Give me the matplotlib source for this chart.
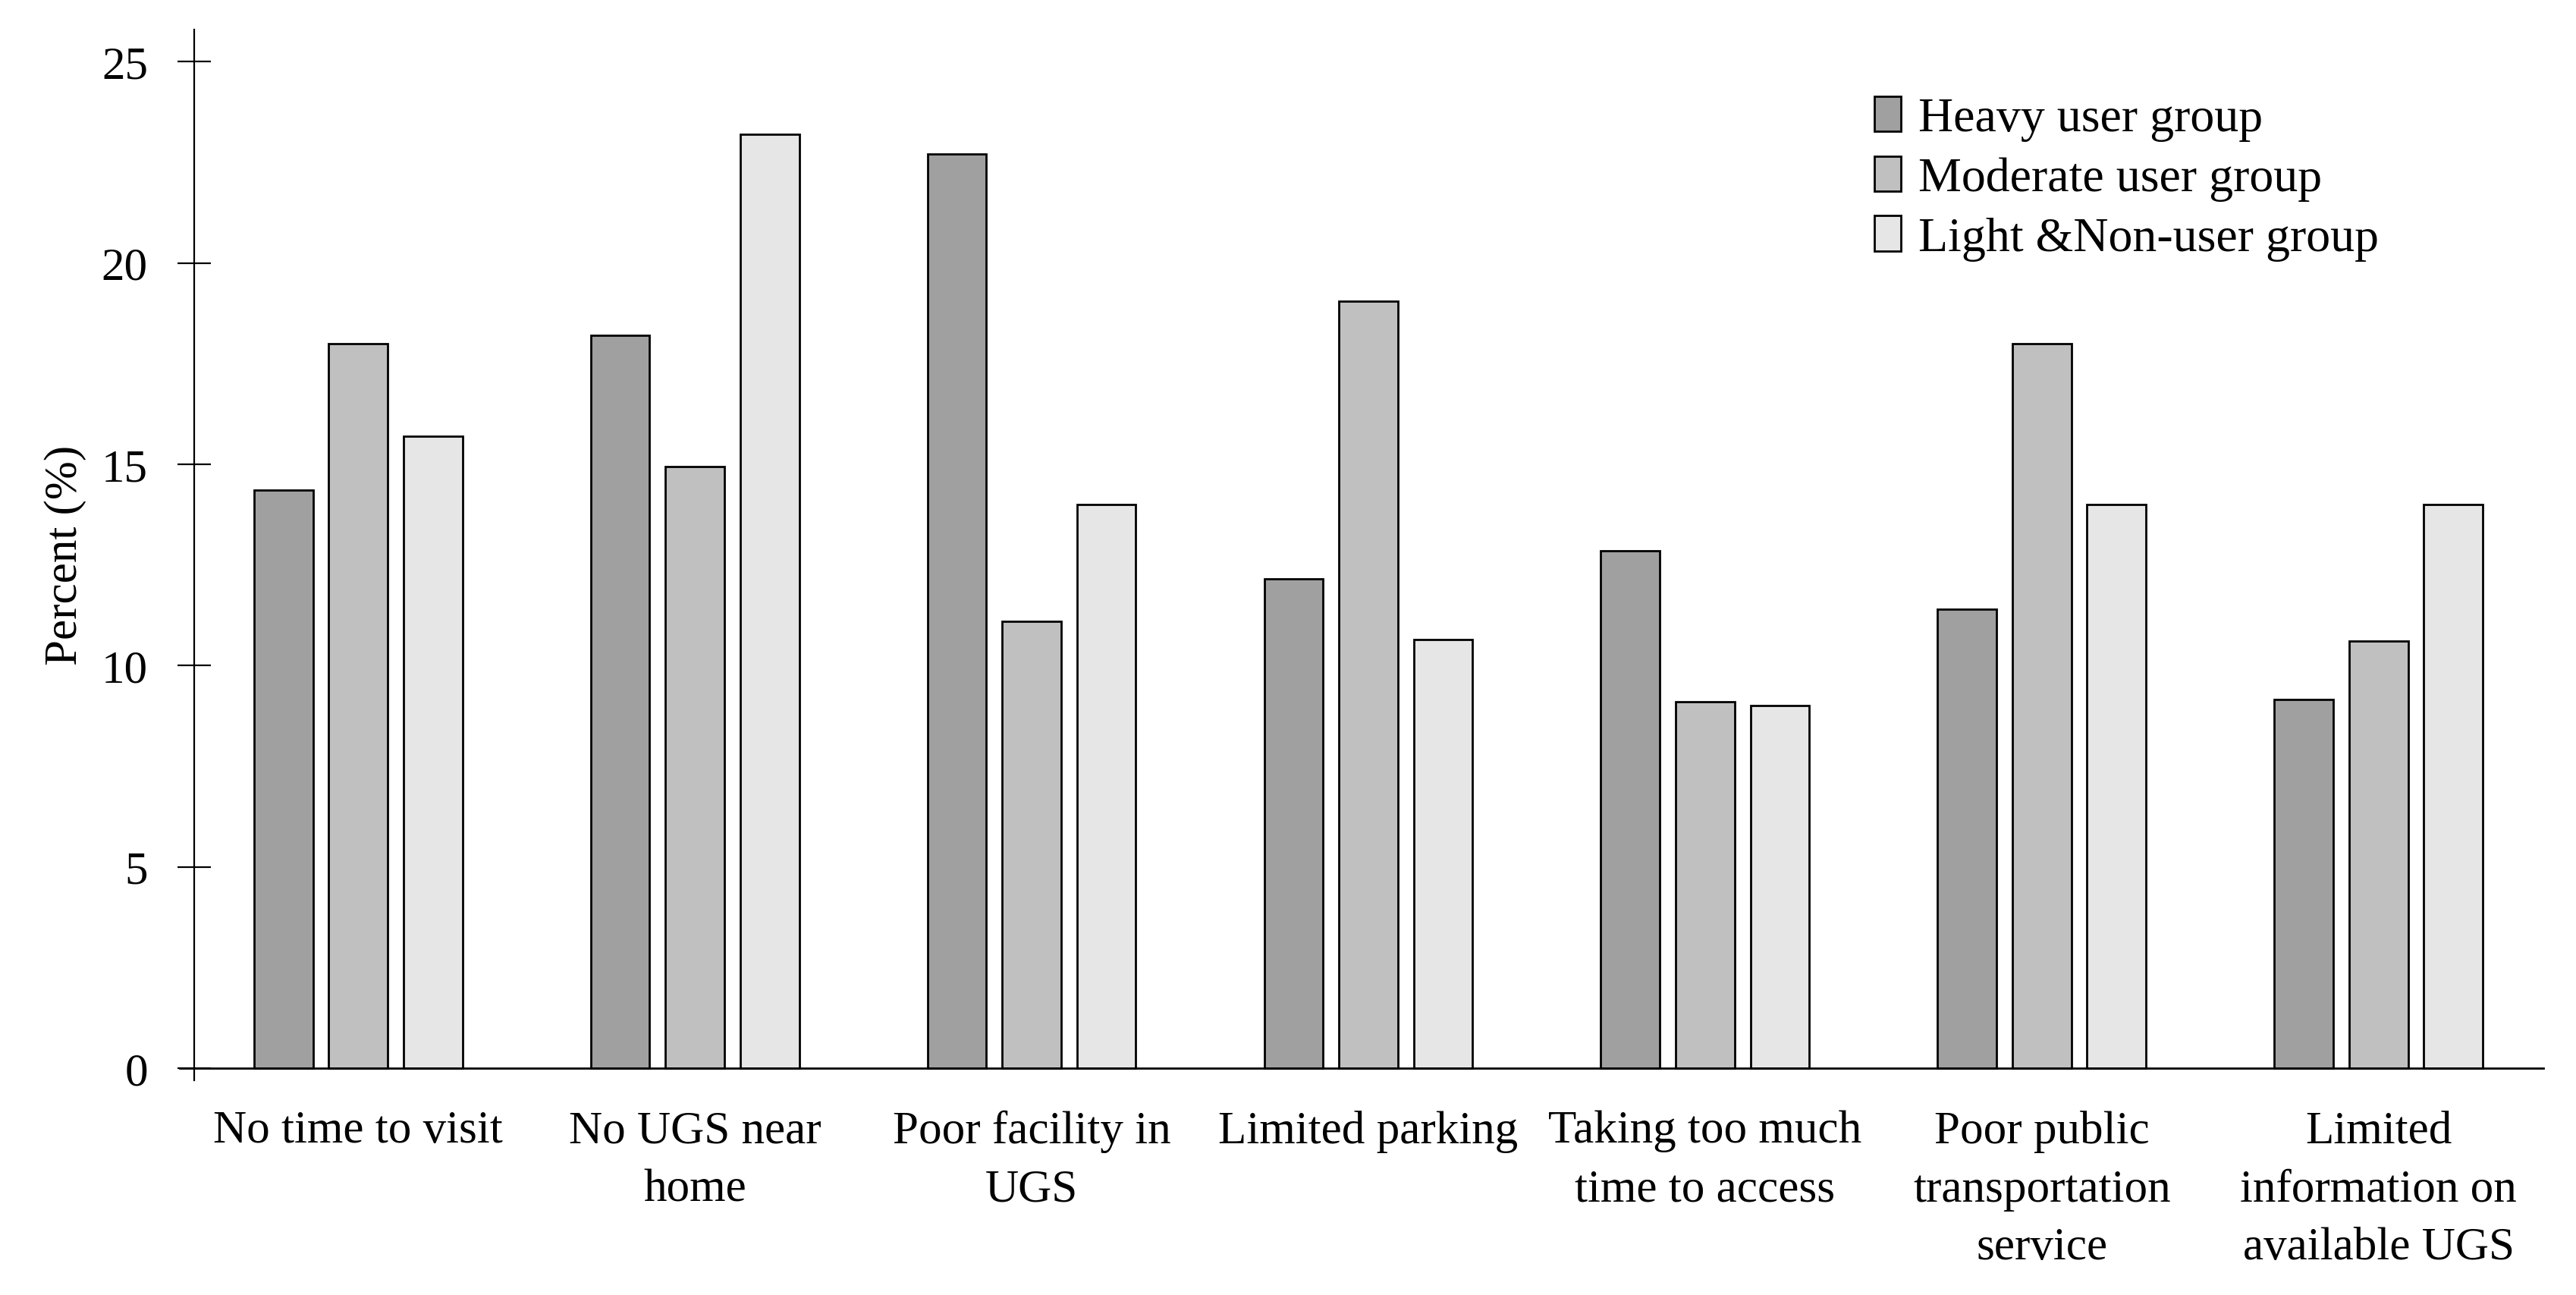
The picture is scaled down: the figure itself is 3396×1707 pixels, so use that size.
import matplotlib.pyplot as plt
import numpy as np

plt.rcParams["font.family"] = ["Liberation Serif", "DejaVu Serif"]

# Barrier categories and percentages per user group
categories = [
    "No time to visit",
    "No UGS near\nhome",
    "Poor facility in\nUGS",
    "Limited parking",
    "Taking too much\ntime to access",
    "Poor public\ntransportation\nservice",
    "Limited\ninformation on\navailable UGS",
]
groups = ["Heavy user group", "Moderate user group", "Light &Non-user group"]
heavy = [14.35, 18.2, 22.7, 12.15, 12.85, 11.4, 9.15]
moderate = [18.0, 14.95, 11.1, 19.05, 9.1, 18.0, 10.6]
light = [15.7, 23.2, 14.0, 10.65, 9.0, 14.0, 14.0]
colors = ["#a0a0a0", "#c0c0c0", "#e6e6e6"]

fig = plt.figure(figsize=(16.98, 8.54), dpi=200)
ax = fig.add_axes([0.0754, 0.1657, 0.912, 0.811])

x = np.arange(len(categories))
width = 0.175
step = 0.222
for k, (vals, name) in enumerate(zip([heavy, moderate, light], groups)):
    ax.bar(x + (k - 1) * step, vals, width, color=colors[k],
           edgecolor="black", linewidth=1.0, label=name, zorder=2)

ax.set_xlim(-0.487, 6.49)
ax.set_ylim(-0.3, 25.8)
ax.set_yticks([0, 5, 10, 15, 20, 25])
ax.set_xticks(x)
ax.set_xticklabels(categories, fontsize=22, linespacing=1.5)
ax.tick_params(axis="x", length=0, pad=14)
ax.tick_params(axis="y", direction="inout", length=16, width=0.8,
               labelsize=22, pad=14)

for side in ["top", "right", "bottom"]:
    ax.spines[side].set_visible(False)
ax.spines["left"].set_linewidth(0.8)
ax.axhline(0, xmin=-0.006, xmax=1.0, color="black", linewidth=1.0,
           clip_on=False, zorder=3)

ax.set_ylabel("Percent (%)", fontsize=22, labelpad=7)

ax.legend(loc="upper left", bbox_to_anchor=(0.707, 0.955), frameon=False,
          fontsize=23, handlelength=0.55, handleheight=0.75,
          handletextpad=0.35, labelspacing=0.3, borderaxespad=0)

fig.savefig("out.png", dpi=200)
